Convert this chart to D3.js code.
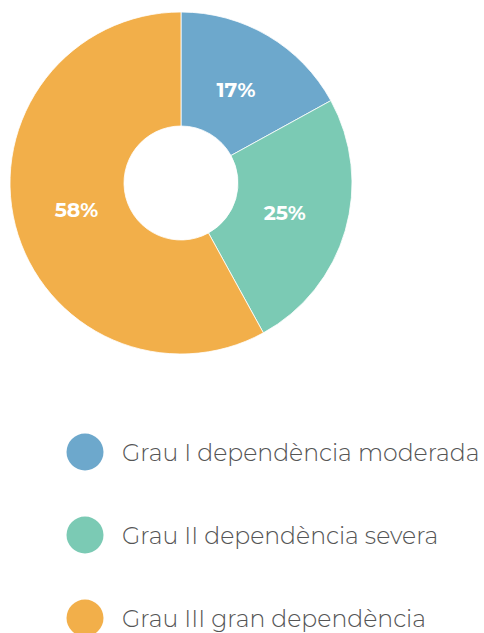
<!DOCTYPE html>
<html>
<head>
<meta charset="utf-8">
<script src="https://cdn.jsdelivr.net/npm/d3@7"></script>
<style>
  body { margin: 0; background: #fff; }
</style>
</head>
<body>
<div class="chart"></div>
<script>
// categories and values
const categories = ["Grau I dependència moderada", "Grau II dependència severa", "Grau III gran dependència"];
const values = [17, 25, 58];
const colors = ["#6DA8CC", "#7BCAB4", "#F2AF4A"];

const width = 484, height = 633;
const cx = 181, cy = 183;
const outerR = 171, innerR = 57;

const svg = d3.select(".chart").append("svg")
    .attr("width", width)
    .attr("height", height);

const data = categories.map((c, i) => ({name: c, value: values[i], color: colors[i]}));

const pie = d3.pie().sort(null).value(d => d.value);
const arc = d3.arc().innerRadius(innerR).outerRadius(outerR);
const labelArc = d3.arc().innerRadius(108).outerRadius(108);

const g = svg.append("g")
    .attr("transform", `translate(${cx},${cy})`);

const arcs = pie(data);

g.selectAll("path")
    .data(arcs)
    .enter()
    .append("path")
    .attr("d", arc)
    .attr("fill", d => d.data.color)
    .attr("stroke", "#fff")
    .attr("stroke-width", 0.8);

g.selectAll("text")
    .data(arcs)
    .enter()
    .append("text")
    .attr("transform", d => `translate(${labelArc.centroid(d)})`)
    .attr("text-anchor", "middle")
    .attr("dy", "0.35em")
    .style("font-family", "Montserrat, Lato, 'Open Sans', sans-serif")
    .style("font-weight", "bold")
    .style("font-size", "20.5px")
    .attr("fill", "#fff")
    .text(d => d.data.value + "%");

// legend
const legend = svg.append("g")
    .attr("transform", "translate(85,452)");

const rowY = d3.scalePoint().domain(categories).range([0, 166]);

const items = legend.selectAll(".item")
    .data(data)
    .enter()
    .append("g")
    .attr("class", "item")
    .attr("transform", d => `translate(0,${rowY(d.name)})`);

items.append("circle")
    .attr("r", 18.5)
    .attr("fill", d => d.color);

items.append("text")
    .attr("x", 37)
    .attr("dy", "0.36em")
    .style("font-family", "Montserrat, Lato, 'Open Sans', sans-serif")
    .style("font-weight", 300)
    .style("font-size", "23.6px")
    .attr("fill", "#555")
    .text(d => d.name);
</script>
</body>
</html>
